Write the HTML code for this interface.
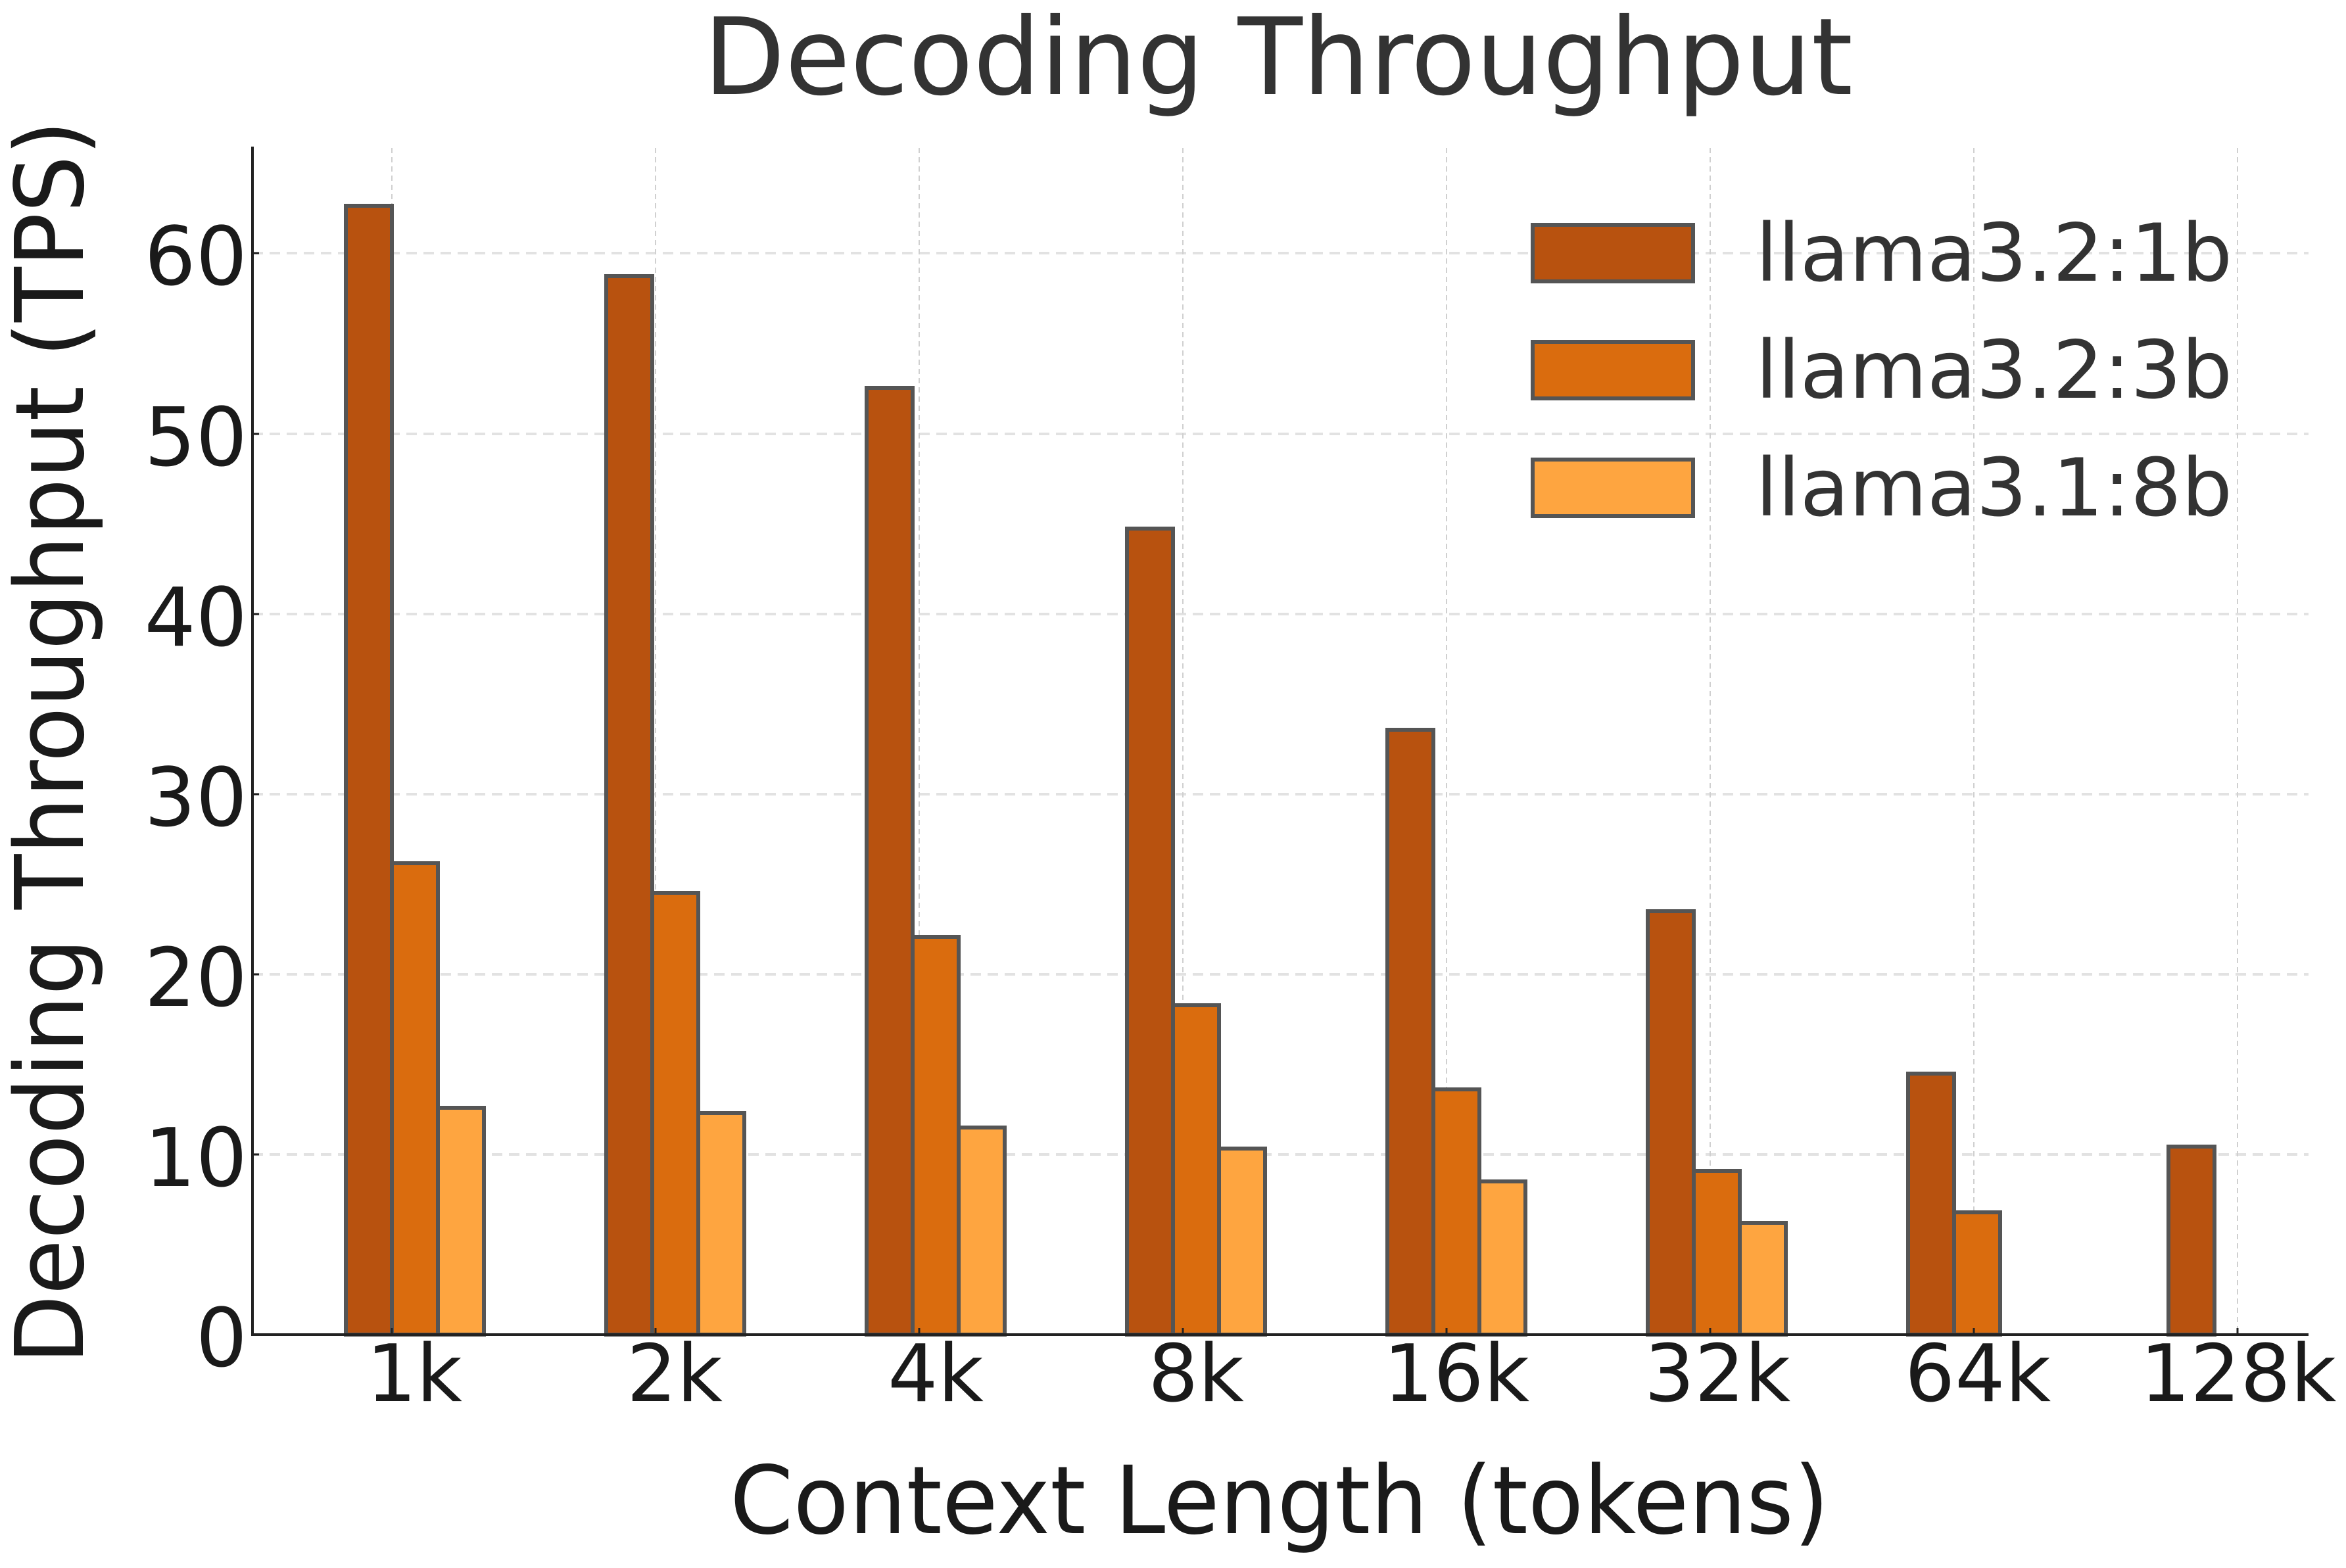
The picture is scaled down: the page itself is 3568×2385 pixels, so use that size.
<!DOCTYPE html>
<html><head><meta charset="utf-8"><style>html,body{margin:0;padding:0;background:#fff}</style></head>
<body>
<svg xmlns="http://www.w3.org/2000/svg" width="3568" height="2380" viewBox="0 0 3568 2380" font-family="'DejaVu Sans','Liberation Sans',sans-serif">
<rect width="3568" height="2380" fill="#fff"/>
<g stroke="#e2e2e2" stroke-width="4" stroke-dasharray="16,10">
<line x1="384" x2="3511" y1="1756" y2="1756"/>
<line x1="384" x2="3511" y1="1482" y2="1482"/>
<line x1="384" x2="3511" y1="1208" y2="1208"/>
<line x1="384" x2="3511" y1="934" y2="934"/>
<line x1="384" x2="3511" y1="660" y2="660"/>
<line x1="384" x2="3511" y1="385" y2="385"/>
</g>
<g stroke="#d0d0d0" stroke-width="2" stroke-dasharray="8,6">
<line x1="596" x2="596" y1="225" y2="2030"/>
<line x1="997" x2="997" y1="225" y2="2030"/>
<line x1="1398" x2="1398" y1="225" y2="2030"/>
<line x1="1799" x2="1799" y1="225" y2="2030"/>
<line x1="2200" x2="2200" y1="225" y2="2030"/>
<line x1="2601" x2="2601" y1="225" y2="2030"/>
<line x1="3002" x2="3002" y1="225" y2="2030"/>
<line x1="3403" x2="3403" y1="225" y2="2030"/>
</g>
<g stroke="#555" stroke-width="6">
<g fill="#b8520f">
<rect x="526" y="313" width="70" height="1717"/>
<rect x="922" y="420" width="70" height="1610"/>
<rect x="1318" y="590" width="70" height="1440"/>
<rect x="1714" y="804" width="70" height="1226"/>
<rect x="2110" y="1110" width="70" height="920"/>
<rect x="2506" y="1386" width="70" height="644"/>
<rect x="2902" y="1633" width="70" height="397"/>
<rect x="3298" y="1744" width="70" height="286"/>
</g>
<g fill="#da6c0e">
<rect x="596" y="1313" width="70" height="717"/>
<rect x="992" y="1358" width="70" height="672"/>
<rect x="1388" y="1425" width="70" height="605"/>
<rect x="1784" y="1529" width="70" height="501"/>
<rect x="2180" y="1657" width="70" height="373"/>
<rect x="2576" y="1781" width="70" height="249"/>
<rect x="2972" y="1844" width="70" height="186"/>
</g>
<g fill="#fea540">
<rect x="666" y="1685" width="70" height="345"/>
<rect x="1062" y="1693" width="70" height="337"/>
<rect x="1458" y="1715" width="70" height="315"/>
<rect x="1854" y="1747" width="70" height="283"/>
<rect x="2250" y="1797" width="70" height="233"/>
<rect x="2646" y="1860" width="70" height="170"/>
</g>
</g>
<line x1="384" x2="384" y1="223" y2="2032" stroke="#222" stroke-width="4"/>
<line x1="382" x2="3511" y1="2030" y2="2030" stroke="#222" stroke-width="4"/>
<g stroke="#222" stroke-width="3">
<line x1="596" x2="596" y1="2030" y2="2020"/><line x1="997" x2="997" y1="2030" y2="2020"/>
<line x1="1398" x2="1398" y1="2030" y2="2020"/><line x1="1799" x2="1799" y1="2030" y2="2020"/>
<line x1="2200" x2="2200" y1="2030" y2="2020"/><line x1="2601" x2="2601" y1="2030" y2="2020"/>
<line x1="3002" x2="3002" y1="2030" y2="2020"/><line x1="3403" x2="3403" y1="2030" y2="2020"/>
<line x1="384" x2="394" y1="1756" y2="1756"/><line x1="384" x2="394" y1="1482" y2="1482"/>
<line x1="384" x2="394" y1="1208" y2="1208"/><line x1="384" x2="394" y1="934" y2="934"/>
<line x1="384" x2="394" y1="660" y2="660"/><line x1="384" x2="394" y1="385" y2="385"/>
</g>
<g font-size="123" fill="#1a1a1a" text-anchor="end">
<text x="376" y="2078">0</text>
<text x="376" y="1804">10</text>
<text x="376" y="1530">20</text>
<text x="376" y="1256">30</text>
<text x="376" y="982">40</text>
<text x="376" y="708">50</text>
<text x="376" y="433">60</text>
</g>
<g font-size="120" fill="#1a1a1a" text-anchor="middle">
<text x="630" y="2131">1k</text>
<text x="1026" y="2131">2k</text>
<text x="1423" y="2131">4k</text>
<text x="1819" y="2131">8k</text>
<text x="2215" y="2131">16k</text>
<text x="2612" y="2131">32k</text>
<text x="3008" y="2131">64k</text>
<text x="3404" y="2131">128k</text>
</g>
<text x="1070" y="143" font-size="162" fill="#333" textLength="1748" lengthAdjust="spacingAndGlyphs">Decoding Throughput</text>
<text x="1110" y="2332" font-size="143" fill="#1a1a1a" textLength="1672" lengthAdjust="spacingAndGlyphs">Context Length (tokens)</text>
<text transform="translate(126,2075) rotate(-90)" x="0" y="0" font-size="144" fill="#1a1a1a" textLength="1892" lengthAdjust="spacingAndGlyphs">Decoding Throughput (TPS)</text>
<g stroke="#555" stroke-width="6">
<rect x="2331" y="342" width="244" height="86" fill="#b8520f"/>
<rect x="2331" y="520" width="244" height="86" fill="#da6c0e"/>
<rect x="2331" y="699" width="244" height="86" fill="#fea540"/>
</g>
<g font-size="121" fill="#333">
<text x="2670" y="427" textLength="725" lengthAdjust="spacingAndGlyphs">llama3.2:1b</text>
<text x="2670" y="605" textLength="725" lengthAdjust="spacingAndGlyphs">llama3.2:3b</text>
<text x="2670" y="784" textLength="725" lengthAdjust="spacingAndGlyphs">llama3.1:8b</text>
</g>
</svg>
</body></html>
